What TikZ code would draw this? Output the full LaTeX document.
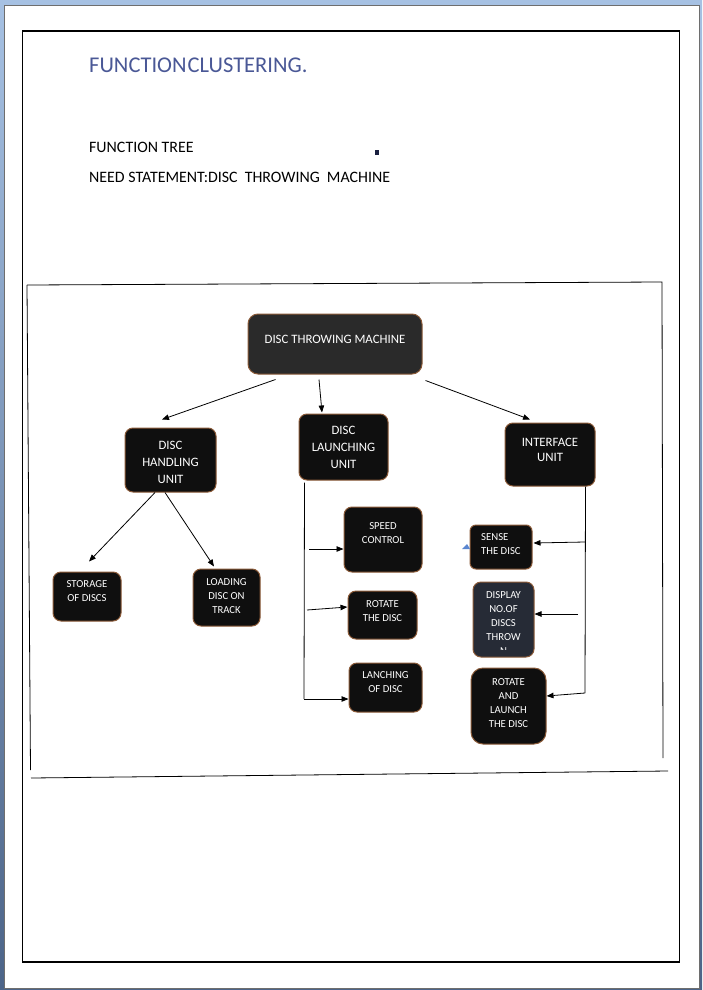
\documentclass[tikz,border=0pt]{standalone}
\usepackage{fontspec}
\setmainfont{Carlito}
\usetikzlibrary{arrows.meta,calc}

\definecolor{boxfill}{HTML}{0F0F0F}
\definecolor{boxedge}{HTML}{8A5A38}
\definecolor{rootfill}{HTML}{2A2A2A}
\definecolor{dispfill}{HTML}{262B36}
\definecolor{titleblue}{HTML}{4A5896}
\definecolor{pageedge}{HTML}{6E6E6E}
\definecolor{wintop}{HTML}{A6C1E3}
\definecolor{winbot}{HTML}{4C6488}
\definecolor{dotnavy}{HTML}{1A2040}
\definecolor{markblue}{HTML}{5A86D0}

\tikzset{
  box/.style={draw=boxedge, line width=1pt, fill=boxfill, rounded corners=8pt, inner sep=0pt},
  boxtxt/.style={text=white, align=center, font=\fontsize{10.7}{14}\selectfont, inner sep=0pt},
  bigtxt/.style={boxtxt, font=\fontsize{12.8}{17}\selectfont},
  link/.style={draw=black, line width=0.8pt, -{Triangle[length=7pt,width=5.5pt]}},
  rule/.style={draw=black, line width=0.8pt},
  headtxt/.style={anchor=base west, inner sep=0pt, text=black, font=\fontsize{15.9}{18}\selectfont},
}

\begin{document}
\begin{tikzpicture}[x=1pt,y=-1pt]
  \useasboundingbox (0,0) rectangle (702,990);

  % window background and page
  \shade[top color=wintop, bottom color=winbot] (0,0) rectangle (702,990);
  \fill[white] (4,5) rectangle (699,988);
  \draw[pageedge, line width=0.8pt] (4,5) rectangle (699,988);
  \draw[black, line width=1.2pt] (22.5,31) rectangle (679.5,962);

  % headings
  \node[anchor=base west, inner sep=0pt, text=titleblue, font=\fontsize{22.5}{25}\selectfont] (title) at (89,72) {FUNCTION\hspace{1pt}CLUSTERING.};
  \node[headtxt] (tree) at (89,152) {FUNCTION TREE};
  \node[headtxt] (need) at (89,182) {NEED STATEMENT:DISC\ \ THROWING\ \ MACHINE};
  \fill[dotnavy] (375,150) rectangle (379,155);

  % frame around the tree
  \coordinate (f1) at (27,285);
  \coordinate (f2) at (662,282);
  \coordinate (f3) at (663,758);
  \coordinate (f6) at (30.5,770);
  \coordinate (f4) at (31,778);
  \coordinate (f5) at (668,771);
  \draw[rule] (f1) -- (f2) -- (f3);
  \draw[rule] (f1) -- (f6);
  \draw[rule] (f4) -- (f5);

  % root
  \node[box, fill=rootfill, rounded corners=10pt, minimum width=174pt, minimum height=60pt] (dtm) at (335,344) {};
  \node[bigtxt] (dtm-t) at (335,339) {DISC THROWING MACHINE};

  % second level
  \node[box, minimum width=91pt, minimum height=64pt] (dhu) at (170.5,460) {};
  \node[bigtxt] (dhu-t) at (170.5,462) {DISC\\HANDLING\\UNIT};
  \node[box, minimum width=89pt, minimum height=66pt] (dlu) at (343.5,447) {};
  \node[bigtxt] (dlu-t) at (343.5,447) {DISC\\LAUNCHING\\UNIT};
  \node[box, minimum width=90pt, minimum height=63pt] (ifu) at (550,454.5) {};
  \node[bigtxt, font=\fontsize{12.8}{15}\selectfont] (ifu-t) at (550,449.5) {INTERFACE\\UNIT};

  % handling branch
  \node[box, minimum width=68pt, minimum height=49pt] (sod) at (87,596.5) {};
  \node[boxtxt] (sod-t) at (87,591) {STORAGE\\OF DISCS};
  \node[box, minimum width=67pt, minimum height=57pt] (ldt) at (226.5,597.5) {};
  \node[boxtxt] (ldt-t) at (226.5,596) {LOADING\\DISC ON\\TRACK};

  % launching branch
  \node[box, minimum width=78pt, minimum height=65pt] (spd) at (383,539.5) {};
  \node[boxtxt] (spd-t) at (383,533) {SPEED\\CONTROL};
  \node[box, minimum width=69pt, minimum height=48pt] (rot) at (382.5,615) {};
  \node[boxtxt] (rot-t) at (382.5,611) {ROTATE\\THE DISC};
  \node[box, minimum width=73pt, minimum height=49pt] (lan) at (385.5,687.5) {};
  \node[boxtxt] (lan-t) at (385.5,682) {LANCHING\\OF DISC};

  % interface branch
  \node[box, rounded corners=6pt, minimum width=62pt, minimum height=44pt] (sns) at (501,547) {};
  \node[boxtxt, align=left, anchor=west] (sns-t) at (481,544.5) {SENSE\\THE DISC};
  \node[box, fill=dispfill, minimum width=61pt, minimum height=75pt] (dsp) at (503.5,619.5) {};
  \begin{scope}
    \clip (473,582) rectangle (534,649.5);
    \node[boxtxt] (dsp-t) at (503.5,623) {DISPLAY\\NO.OF\\DISCS\\THROW\\N};
  \end{scope}
  \node[box, rounded corners=12pt, minimum width=75pt, minimum height=76pt] (ral) at (508.5,706) {};
  \node[boxtxt] (ral-t) at (508.5,703) {ROTATE\\AND\\LAUNCH\\THE DISC};
  \fill[markblue] (462,549) -- (470,549) -- (467,544) -- cycle;

  % connectors from the root
  \draw[link] ($(dtm.south west)+(28,5)$) -- ($(dhu.north)+(-8.5,-8)$);
  \draw[link] ($(dtm.south)+(-16,5)$) -- ($(dlu.north)+(-21.5,-1)$);
  \draw[link] ($(dtm.south east)+(3,6)$) -- ($(ifu.north)+(-20,-3)$);

  % handling connectors
  \draw[link] ($(dhu.south)+(-15.5,0)$) -- ($(sod.north)+(2,-10)$);
  \draw[link] ($(dhu.south)+(-5.5,0)$) -- ($(ldt.north)+(-12.5,-2)$);

  % launching spine
  \coordinate (ls-top) at ($(dlu.south west)+(6,2)$);
  \coordinate (ls-bot) at (304,699);
  \coordinate (ls-a) at (309,549);
  \coordinate (ls-b) at (307,610);
  \draw[rule] (ls-top) -- (ls-bot);
  \draw[link] (ls-a) -- ($(spd.west)+(0,9.5)$);
  \draw[link] (ls-b) -- ($(rot.west)+(0,-8)$);
  \draw[link] (ls-bot) -- ($(lan.west)+(0,11.5)$);

  % interface spine
  \coordinate (is-top) at ($(ifu.south east)+(-10,0)$);
  \coordinate (is-bot) at (585,693);
  \coordinate (is-a) at (585,542);
  \coordinate (is-b) at (578,614);
  \draw[rule] (is-top) -- (is-bot);
  \draw[link] (is-a) -- ($(sns.east)+(1,-4)$);
  \draw[link] (is-b) -- ($(dsp.east)+(0,-5.5)$);
  \draw[link] (is-bot) -- ($(ral.east)+(0,-10)$);
\end{tikzpicture}
\end{document}
